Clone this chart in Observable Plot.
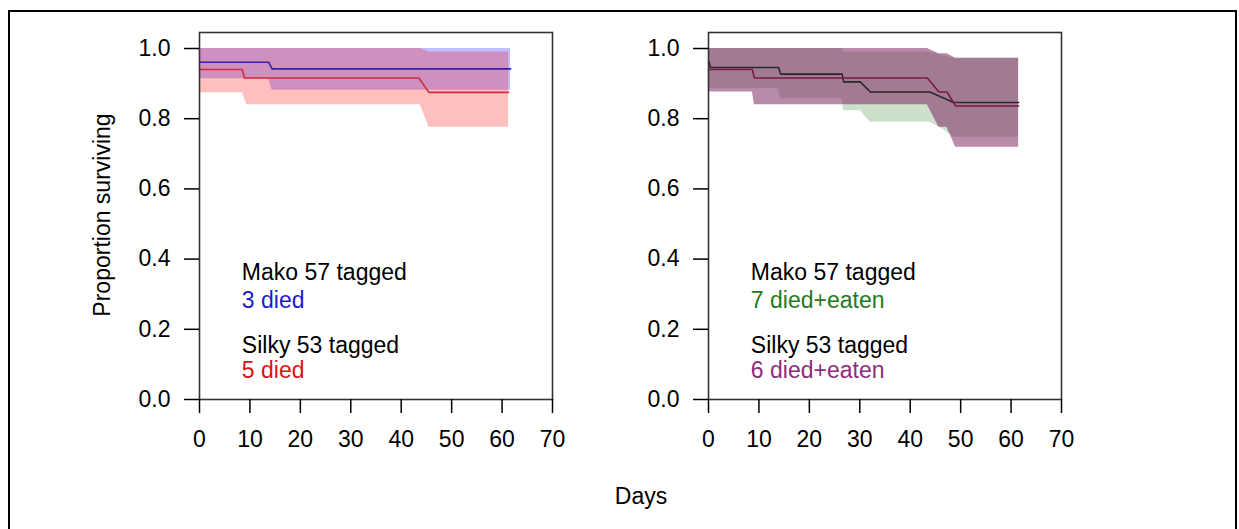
<!DOCTYPE html>
<html><head><meta charset="utf-8">
<script src="https://cdn.jsdelivr.net/npm/d3@7"></script>
<script src="https://cdn.jsdelivr.net/npm/@observablehq/plot@0.6"></script>
<style>
body{margin:0;background:#fff;}
#wrap{position:relative;width:1239px;height:529px;overflow:hidden;font-family:"Liberation Sans",Arial,sans-serif;background:#fff;}
#border{position:absolute;left:8px;top:10px;width:1229px;height:600px;border:2px solid #000;box-sizing:border-box;}
.panel{position:absolute;top:0;}
#ylab{position:absolute;left:102px;top:215px;transform:translate(-50%,-50%) rotate(-90deg);font-size:23px;white-space:nowrap;color:#000;}
#xlab{position:absolute;left:641px;top:496px;transform:translate(-50%,-50%);font-size:23px;color:#000;}
</style></head><body>
<div id="wrap">
<div id="border"></div>
<div id="p1" class="panel" style="left:0px"></div>
<div id="p2" class="panel" style="left:509px"></div>
<div id="ylab">Proportion surviving</div>
<div id="xlab">Days</div>
</div>
<script>
// ---- axis ticks ----
const xTicks = [0, 10, 20, 30, 40, 50, 60, 70];
const yTicks = [0, 0.2, 0.4, 0.6, 0.8, 1.0];

// ---- Panel A: died ----
const makoA_lineDays = [0, 13.7, 14.4, 61.7];
const makoA_surv     = [0.961, 0.961, 0.942, 0.942];
const makoA_bandDays = [0, 13.7, 14.4, 61.7];
const makoA_lower    = [0.914, 0.914, 0.881, 0.881];
const makoA_upper    = [1.0, 1.0, 1.0, 1.0];

const silkyA_lineDays = [0, 8.5, 8.9, 43.5, 45.5, 61.3];
const silkyA_surv     = [0.940, 0.940, 0.916, 0.916, 0.875, 0.875];
const silkyA_bandDays = [0, 8.5, 9.4, 43.8, 45.5, 61.3];
const silkyA_lower    = [0.874, 0.874, 0.840, 0.840, 0.776, 0.776];
const silkyA_upper    = [1.0, 1.0, 1.0, 1.0, 0.99, 0.99];

const notesA = ["Mako 57 tagged", "3 died", "Silky 53 tagged", "5 died"];

// ---- Panel B: died + eaten ----
const makoB_lineDays = [0, 0.1, 0.4, 13.9, 14.3, 26.5, 26.8, 30.1, 32.1, 43.9, 48.6, 61.5];
const makoB_surv     = [0.962, 0.962, 0.946, 0.946, 0.927, 0.927, 0.905, 0.905, 0.876, 0.876, 0.846, 0.846];
const makoB_bandDays = [0, 13.9, 14.3, 26.5, 26.8, 30.1, 32.1, 43.9, 46.5, 48.6, 61.5];
const makoB_lower    = [0.885, 0.885, 0.857, 0.857, 0.823, 0.823, 0.790, 0.790, 0.770, 0.747, 0.747];
const makoB_upper    = [1.0, 1.0, 1.0, 1.0, 0.99, 0.99, 0.99, 0.99, 0.98, 0.972, 0.972];

const silkyB_lineDays = [0, 8.7, 9.1, 43.4, 45.7, 47.3, 49.0, 61.5];
const silkyB_surv     = [0.940, 0.940, 0.916, 0.916, 0.876, 0.876, 0.836, 0.836];
const silkyB_bandDays = [0, 8.7, 9.1, 43.4, 45.7, 47.3, 49.0, 61.5];
const silkyB_lower    = [0.876, 0.876, 0.840, 0.840, 0.776, 0.776, 0.719, 0.719];
const silkyB_upper    = [1.0, 1.0, 1.0, 1.0, 0.985, 0.985, 0.972, 0.972];

const notesB = ["Mako 57 tagged", "7 died+eaten", "Silky 53 tagged", "6 died+eaten"];

// ---- helpers ----
const lineData = (days, s) => days.map((d, i) => ({d, s: s[i]}));
const bandData = (days, lo, hi) => days.map((d, i) => ({d, lo: lo[i], hi: hi[i]}));
const FONT = '"Liberation Sans", Arial, sans-serif';

function panel(bands, lines, notes, noteColors) {
  const noteY = [0.361, 0.282, 0.153, 0.081];
  const noteRows = notes.map((t, i) => ({t, y: noteY[i], c: noteColors[i]}));
  return Plot.plot({
    width: 562, height: 470,
    marginLeft: 199, marginRight: 10, marginTop: 32, marginBottom: 71,
    x: {domain: [0, 70]},
    y: {domain: [0, 1.0456]},
    style: {fontFamily: FONT, fontSize: "23px", color: "#000", background: "transparent", overflow: "visible"},
    marks: [
      ...bands.map(b => Plot.areaY(b.data, {x: "d", y1: "lo", y2: "hi", fill: b.color, fillOpacity: b.op})),
      ...lines.map(l => Plot.line(l.data, {x: "d", y: "s", stroke: l.color, strokeWidth: 1.6})),
      Plot.frame({stroke: "#333", strokeWidth: 1.6}),
      Plot.axisX({ticks: xTicks, tickSize: 14, tickPadding: 17, tickFormat: d => String(d), strokeWidth: 1.5, label: null, fontSize: 23}),
      Plot.axisY({ticks: yTicks, tickSize: 15, tickPadding: 14, tickFormat: d3.format(".1f"), strokeWidth: 1.5, label: null, fontSize: 23}),
      Plot.text(noteRows, {x: () => 8.4, y: "y", text: "t", fill: "c", textAnchor: "start", fontSize: 23, fontFamily: FONT})
    ]
  });
}

document.getElementById("p1").append(panel(
  [
    {data: bandData(makoA_bandDays, makoA_lower, makoA_upper), color: "#0000ff", op: 0.25},
    {data: bandData(silkyA_bandDays, silkyA_lower, silkyA_upper), color: "#ff0000", op: 0.25}
  ],
  [
    {data: lineData(makoA_lineDays, makoA_surv), color: "#3a1fa8"},
    {data: lineData(silkyA_lineDays, silkyA_surv), color: "#d02a3a"}
  ],
  notesA, ["#000", "#1a1acc", "#000", "#dd1111"]
));

document.getElementById("p2").append(panel(
  [
    {data: bandData(makoB_bandDays, makoB_lower, makoB_upper), color: "#006400", op: 0.2},
    {data: bandData(silkyB_bandDays, silkyB_lower, silkyB_upper), color: "#7a1e5e", op: 0.52}
  ],
  [
    {data: lineData(makoB_lineDays, makoB_surv), color: "#2a2a26"},
    {data: lineData(silkyB_lineDays, silkyB_surv), color: "#7a1a44"}
  ],
  notesB, ["#000", "#1e7a1e", "#000", "#8e2c7e"]
));
</script>
</body></html>
